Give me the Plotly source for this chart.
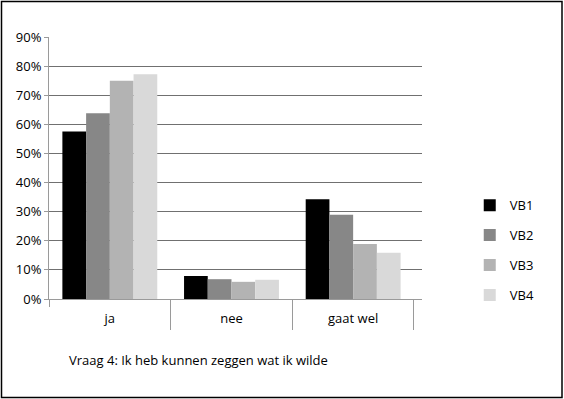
import plotly.graph_objects as go

categories = ["ja", "nee", "gaat wel"]
series_names = ["VB1", "VB2", "VB3", "VB4"]
vb1 = [0.575, 0.079, 0.343]
vb2 = [0.638, 0.068, 0.289]
vb3 = [0.750, 0.059, 0.189]
vb4 = [0.772, 0.066, 0.159]
colors = ["#000000", "#878787", "#b3b3b3", "#d9d9d9"]
caption = "Vraag 4: Ik heb kunnen zeggen wat ik wilde"

FONT = "Open Sans"

fig = go.Figure()
for name, vals, col in zip(series_names, [vb1, vb2, vb3, vb4], colors):
    fig.add_trace(go.Bar(
        x=categories, y=vals, name=name, legendgroup=name,
        marker=dict(color=col, line=dict(width=0)),
    ))

xr = [-0.5, 2.566]
fig.update_layout(
    width=564, height=399,
    margin=dict(l=49, r=142, t=37, b=100),
    paper_bgcolor="white", plot_bgcolor="white",
    barmode="group", bargap=0.22, bargroupgap=0,
    font=dict(family=FONT, size=13, color="black"),
    showlegend=True,
    legend=dict(
        x=1.128, xanchor="left", y=0.415, yanchor="top",
        font=dict(family=FONT, size=13, color="black"),
        tracegroupgap=10, itemwidth=30,
        bgcolor="rgba(0,0,0,0)",
    ),
    xaxis=dict(
        type="category", range=xr,
        showline=True, linecolor="#9a9a9a", linewidth=1,
        ticks="outside", tickson="boundaries", ticklen=7,
        tickcolor="#9a9a9a", ticklabelstandoff=7,
        showgrid=False, zeroline=False,
        tickfont=dict(family=FONT, size=13, color="black"),
    ),
    xaxis2=dict(
        overlaying="x", anchor="y", side="bottom", range=xr,
        tickvals=[0.5, 1.5, 2.5], ticks="outside", ticklen=30,
        tickcolor="#9a9a9a", showticklabels=False, showline=False,
        showgrid=False, zeroline=False,
    ),
    yaxis=dict(
        range=[0, 0.9], dtick=0.1, tickformat=".0%",
        showline=True, linecolor="#9a9a9a", linewidth=1,
        ticks="outside", ticklen=4, tickcolor="#9a9a9a",
        showgrid=True, gridcolor="#707070", gridwidth=1,
        zeroline=False,
        tickfont=dict(family=FONT, size=13, color="black"),
    ),
    annotations=[dict(
        text=caption, xref="paper", yref="paper",
        x=(67 - 49) / 373, y=-(360 - 299) / 262,
        xanchor="left", yanchor="middle", showarrow=False,
        font=dict(family=FONT, size=13, color="black"),
    )],
    shapes=[dict(
        type="rect", xref="paper", yref="paper",
        x0=(1.5 - 49) / 373, x1=(562 - 49) / 373,
        y0=(299 - 397.5) / 262, y1=(299 - 1.5) / 262,
        line=dict(color="black", width=1.5), fillcolor="rgba(0,0,0,0)",
        layer="above",
    )],
)
# invisible trace to bind the overlay axis used for the long divider ticks
fig.add_trace(go.Scatter(x=[0], y=[0], xaxis="x2", mode="markers",
                         marker=dict(opacity=0), showlegend=False,
                         hoverinfo="skip"))

fig.write_html("out.html",
               config={"displayModeBar": False},
               post_script="document.body.style.margin='0';document.body.style.padding='0';")
